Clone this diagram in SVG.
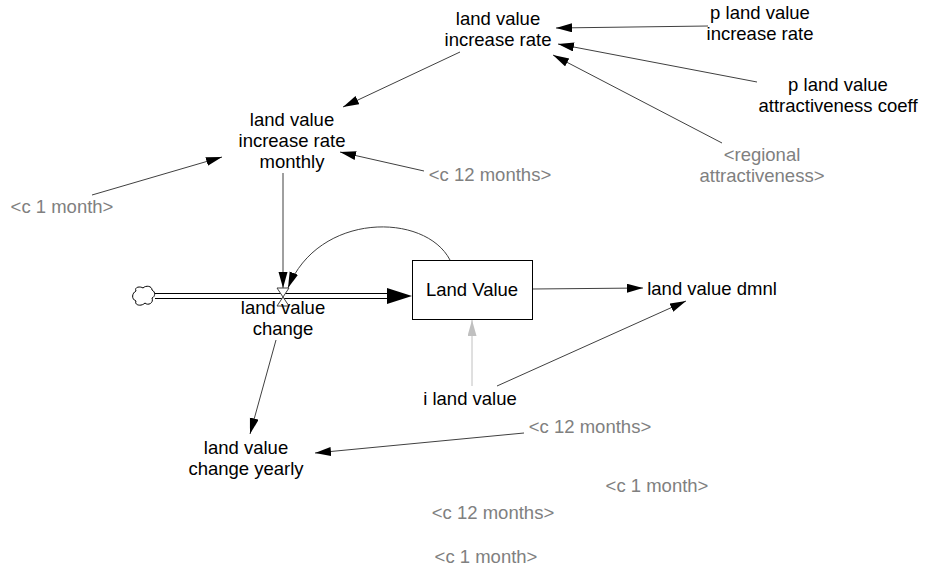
<svg xmlns="http://www.w3.org/2000/svg" width="943" height="573" viewBox="0 0 943 573">
<style>
text{font-family:"Liberation Sans",Arial,sans-serif;font-size:18.5px;text-anchor:middle;fill:#000}
.g{fill:#808080}
.c{fill:none;stroke:#404040;stroke-width:1}
.lg{fill:none;stroke:#c0c0c0;stroke-width:1}
</style>
<defs>
<marker id="ah" markerUnits="userSpaceOnUse" markerWidth="17" markerHeight="10" refX="16" refY="4.5" orient="auto">
<path d="M0,0 L16,4.5 L0,9 z" fill="#000"/>
</marker>
<marker id="ahg" markerUnits="userSpaceOnUse" markerWidth="17" markerHeight="10" refX="16" refY="4.5" orient="auto">
<path d="M0,0 L16,4.5 L0,9 z" fill="#c0c0c0"/>
</marker>
</defs>
<rect width="943" height="573" fill="#fff"/>
<g id="connectors">
<line class="c" x1="708" y1="26" x2="556" y2="28" marker-end="url(#ah)"/>
<line class="c" x1="757" y1="82" x2="558" y2="44" marker-end="url(#ah)"/>
<line class="c" x1="722" y1="143" x2="553" y2="55" marker-end="url(#ah)"/>
<line class="c" x1="460" y1="52" x2="343" y2="107" marker-end="url(#ah)"/>
<line class="c" x1="92" y1="195" x2="222" y2="157" marker-end="url(#ah)"/>
<line class="c" x1="424" y1="171" x2="340" y2="152" marker-end="url(#ah)"/>
<line class="c" x1="283" y1="173" x2="283" y2="288" marker-end="url(#ah)"/>
<path class="c" d="M450,260 C425,212 318,212 288,288" marker-end="url(#ah)"/>
<line class="c" x1="532" y1="289" x2="643" y2="288" marker-end="url(#ah)"/>
<line class="lg" x1="472" y1="386" x2="472" y2="320" marker-end="url(#ahg)"/>
<line class="c" x1="497" y1="386" x2="686" y2="301" marker-end="url(#ah)"/>
<line class="c" x1="276" y1="340" x2="250" y2="434" marker-end="url(#ah)"/>
<line class="c" x1="524" y1="433" x2="315" y2="453" marker-end="url(#ah)"/>
</g>
<g id="flow-land-value-change">
<path d="M136,291 C134,287 140,286 143,288 C146,285 152,286 152,290 C156,292 155,297 152,298 C154,303 148,306 145,303 C141,307 134,305 136,301 C131,299 132,293 136,291 z" fill="#fff" stroke="#000" stroke-width="1"/>
<line x1="155" y1="293.5" x2="390" y2="293.5" stroke="#000" stroke-width="1"/>
<line x1="155" y1="298.5" x2="390" y2="298.5" stroke="#000" stroke-width="1"/>
<polygon points="387,288 412,296 387,304" fill="#000"/>
<polygon points="277,288 289,288 283,297" fill="#fff" stroke="#404040" stroke-width="1"/>
<polygon points="283,297 277,306 289,306" fill="#fff" stroke="#404040" stroke-width="1"/>
<text x="283" y="314">land value</text>
<text x="283" y="335">change</text>
</g>
<g id="land-value">
<rect x="412.5" y="260.5" width="120" height="59" fill="#fff" stroke="#000" stroke-width="1"/>
<text x="472" y="296">Land Value</text>
</g>
<g id="land-value-increase-rate">
<text x="498" y="25">land value</text>
<text x="498" y="46">increase rate</text>
</g>
<g id="p-land-value-increase-rate">
<text x="760" y="19">p land value</text>
<text x="760" y="40">increase rate</text>
</g>
<g id="p-land-value-attractiveness-coeff">
<text x="838" y="91">p land value</text>
<text x="838" y="112">attractiveness coeff</text>
</g>
<g id="regional-attractiveness">
<text class="g" x="762" y="161">&lt;regional</text>
<text class="g" x="762" y="182">attractiveness&gt;</text>
</g>
<g id="land-value-increase-rate-monthly">
<text x="292" y="126">land value</text>
<text x="292" y="147">increase rate</text>
<text x="292" y="168">monthly</text>
</g>
<g id="c-12-months-1"><text class="g" x="490" y="181">&lt;c 12 months&gt;</text></g>
<g id="c-1-month-1"><text class="g" x="62" y="213">&lt;c 1 month&gt;</text></g>
<g id="land-value-dmnl"><text x="712" y="295">land value dmnl</text></g>
<g id="i-land-value"><text x="470" y="405">i land value</text></g>
<g id="c-12-months-2"><text class="g" x="590" y="433">&lt;c 12 months&gt;</text></g>
<g id="land-value-change-yearly">
<text x="246" y="454">land value</text>
<text x="246" y="475">change yearly</text>
</g>
<g id="c-1-month-2"><text class="g" x="657" y="492">&lt;c 1 month&gt;</text></g>
<g id="c-12-months-3"><text class="g" x="493" y="519">&lt;c 12 months&gt;</text></g>
<g id="c-1-month-3"><text class="g" x="486" y="563">&lt;c 1 month&gt;</text></g>
</svg>
